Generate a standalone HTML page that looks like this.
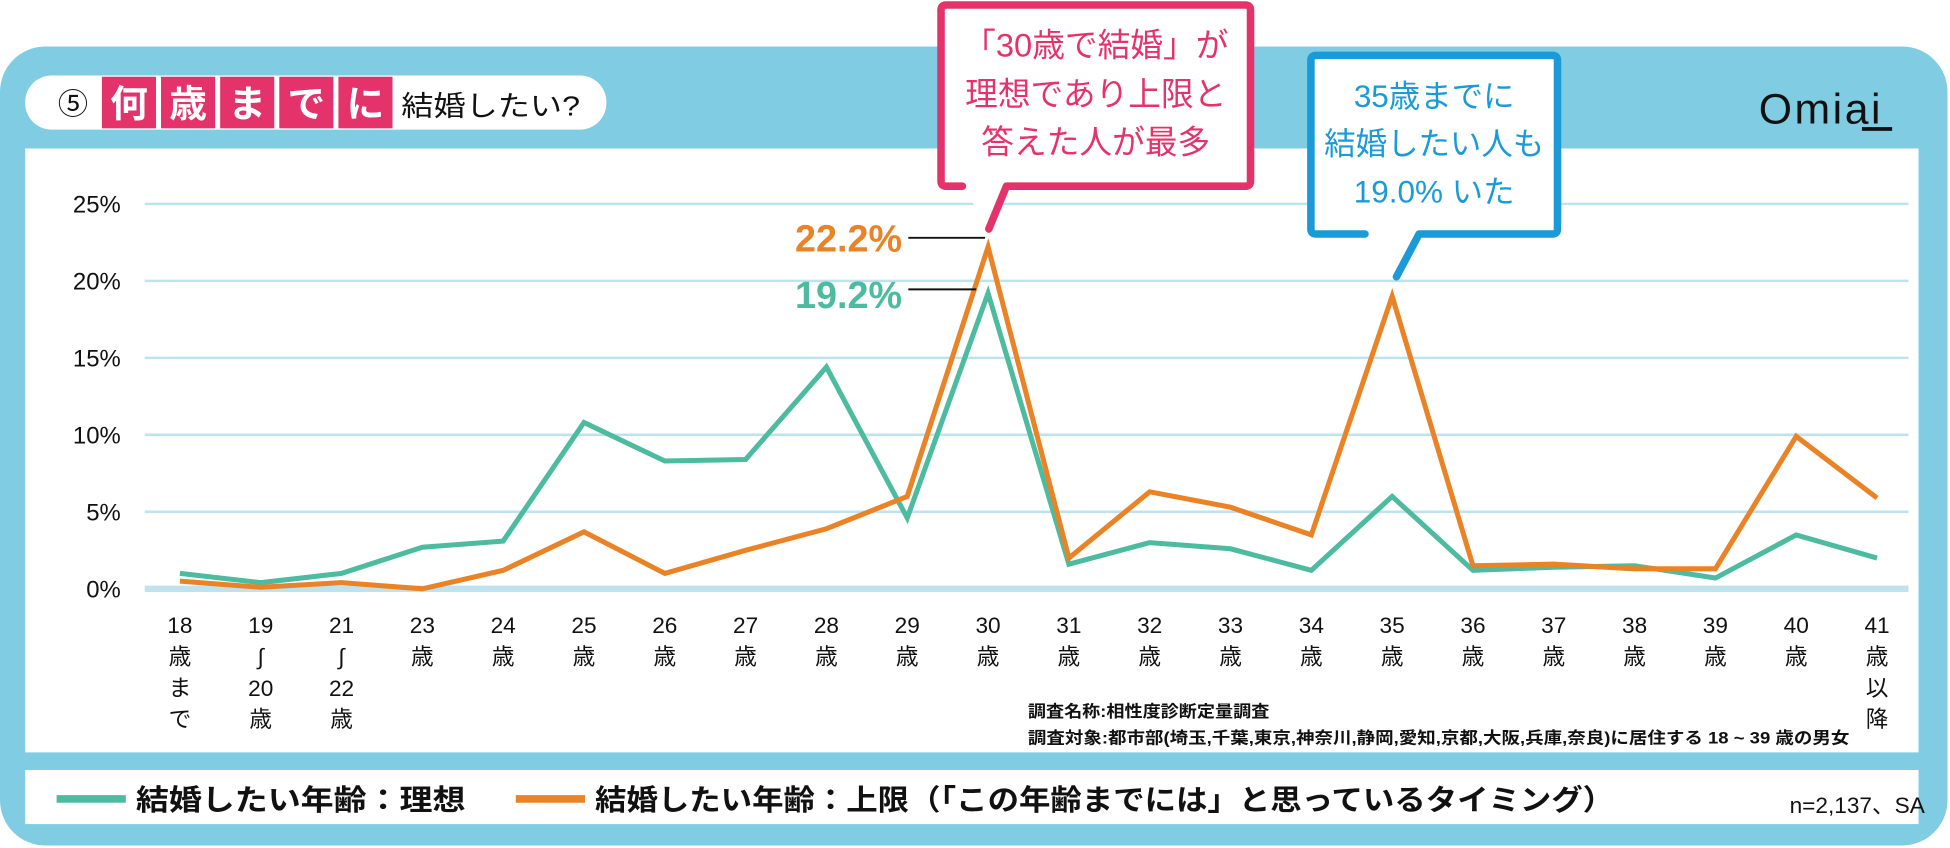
<!DOCTYPE html>
<html><head><meta charset="utf-8"><style>
html,body{margin:0;padding:0;background:#fff}
svg{display:block}
text{font-family:"Liberation Sans","Noto Sans CJK JP",sans-serif}
</style></head><body>
<svg id="chart" width="1950" height="848" viewBox="0 0 1550 674" preserveAspectRatio="none" xmlns="http://www.w3.org/2000/svg">
<rect x="0" y="37" width="1548" height="635" rx="36" fill="#80cce3"/>
<rect x="20" y="118" width="1505" height="480" fill="#fff"/>
<rect x="20" y="612" width="1505" height="43" fill="#fff"/>
<g>
<rect x="20" y="60" width="462" height="43" rx="21" fill="#fff"/>
<text x="58" y="91" font-size="24" text-anchor="middle" fill="#111">⑤</text>
<rect x="81" y="61" width="43" height="41" fill="#e4336b"/><rect x="128" y="61" width="43" height="41" fill="#e4336b"/><rect x="175" y="61" width="43" height="41" fill="#e4336b"/><rect x="222" y="61" width="43" height="41" fill="#e4336b"/><rect x="269" y="61" width="43" height="41" fill="#e4336b"/>
<text y="93" font-size="30" font-weight="bold" fill="#fff" text-anchor="middle"><tspan x="102.5">何</tspan><tspan x="149.5">歳</tspan><tspan x="196.5">ま</tspan><tspan x="243.5">で</tspan><tspan x="290.5">に</tspan></text>
<text x="319" y="92" font-size="22" fill="#111" textLength="142" lengthAdjust="spacingAndGlyphs">結婚したい?</text>
</g>
<g><text x="1398" y="98" font-size="34" fill="#111" letter-spacing="2">Omiai</text><rect x="1480" y="101" width="24" height="3" fill="#111"/></g>
<g id="grid"></g><g id="series"></g><g id="labels"></g>
<g>
<path d="M765 148 L752 148 Q748 148 748 144 L748 8 Q748 4 752 4 L990 4 Q994 4 994 8 L994 144 Q994 148 990 148 L800 148 L786 182" fill="#fff" stroke="#e4336b" stroke-width="6" stroke-linecap="round" stroke-linejoin="round"/>
<text font-size="26" fill="#e4336b" text-anchor="middle"><tspan x="871" y="45">「30歳で結婚」が</tspan><tspan x="871" y="84">理想であり上限と</tspan><tspan x="871" y="122">答えた人が最多</tspan></text>
</g>
<g>
<path d="M1085 186 L1046 186 Q1042 186 1042 182 L1042 48 Q1042 44 1046 44 L1234 44 Q1238 44 1238 48 L1238 182 Q1238 186 1234 186 L1128 186 L1110 220" fill="#fff" stroke="#1a9ad6" stroke-width="6" stroke-linecap="round" stroke-linejoin="round"/>
<text font-size="25" fill="#1a9ad6" text-anchor="middle"><tspan x="1140" y="85">35歳までに</tspan><tspan x="1140" y="123">結婚したい人も</tspan><tspan x="1140" y="161">19.0% いた</tspan></text>
</g>
<g>
<text x="717" y="200" font-size="30" font-weight="bold" fill="#ea8226" text-anchor="end">22.2%</text>
<line x1="722" y1="189" x2="783" y2="189" stroke="#111" stroke-width="1.5"/>
<text x="717" y="245" font-size="30" font-weight="bold" fill="#4dbb9f" text-anchor="end">19.2%</text>
<line x1="722" y1="230" x2="776" y2="230" stroke="#111" stroke-width="1.5"/>
</g>
<g font-size="13" font-weight="bold" fill="#111">
<text x="817" y="570" textLength="192" lengthAdjust="spacingAndGlyphs">調査名称:相性度診断定量調査</text>
<text x="817" y="591" textLength="653" lengthAdjust="spacingAndGlyphs">調査対象:都市部(埼玉,千葉,東京,神奈川,静岡,愛知,京都,大阪,兵庫,奈良)に居住する 18 ~ 39 歳の男女</text>
</g>
<g>
<line x1="45" y1="635" x2="100" y2="635" stroke="#4dbb9f" stroke-width="6"/>
<text x="108" y="644" font-size="23" font-weight="bold" fill="#111" textLength="262" lengthAdjust="spacingAndGlyphs">結婚したい年齢：理想</text>
<line x1="410" y1="635" x2="465" y2="635" stroke="#ea8226" stroke-width="6"/>
<text x="473" y="644" font-size="23" font-weight="bold" fill="#111" textLength="810" lengthAdjust="spacingAndGlyphs">結婚したい年齢：上限（「この年齢までには」と思っているタイミング）</text>
<text x="1530" y="646" font-size="18" fill="#111" text-anchor="end">n=2,137、SA</text>
</g>
</svg>
<script>
const categories=["18歳まで","19〜20歳","21〜22歳","23歳","24歳","25歳","26歳","27歳","28歳","29歳","30歳","31歳","32歳","33歳","34歳","35歳","36歳","37歳","38歳","39歳","40歳","41歳以降"];
const xLabels=[["18","歳","ま","で"],["19","∫","20","歳"],["21","∫","22","歳"],["23","歳"],["24","歳"],["25","歳"],["26","歳"],["27","歳"],["28","歳"],["29","歳"],["30","歳"],["31","歳"],["32","歳"],["33","歳"],["34","歳"],["35","歳"],["36","歳"],["37","歳"],["38","歳"],["39","歳"],["40","歳"],["41","歳","以","降"]];
const idealValues=[1.0,0.4,1.0,2.7,3.1,10.8,8.3,8.4,14.4,4.6,19.2,1.6,3.0,2.6,1.2,6.0,1.2,1.4,1.5,0.7,3.5,2.0];
const upperValues=[0.5,0.1,0.4,0.0,1.2,3.7,1.0,2.5,3.9,6.0,22.2,2.0,6.3,5.3,3.5,19.0,1.5,1.6,1.3,1.3,9.9,5.9];
const yTicks=[0,5,10,15,20,25];
const yTickLabels=["0%","5%","10%","15%","20%","25%"];
const NS="http://www.w3.org/2000/svg";
function xScale(i){return 143+i*(1492-143)/(categories.length-1);}
function yScale(v){return 468-v*(468-162)/25;}
function mk(tag,attrs,parent){const e=document.createElementNS(NS,tag);for(const k in attrs)e.setAttribute(k,attrs[k]);parent.appendChild(e);return e;}
const grid=document.getElementById('grid'),series=document.getElementById('series'),labels=document.getElementById('labels');
yTicks.forEach((t,i)=>{
 const l=mk('line',{x1:115,x2:1517,y1:yScale(t),y2:yScale(t),stroke:'#bfe3ee','stroke-width':t===0?5:2},grid);
 
 
 const tx=mk('text',{x:96,y:yScale(t)+7,'font-size':19,'text-anchor':'end',fill:'#111'},grid);
 tx.textContent=yTickLabels[i];
 
 
});
xLabels.forEach((parts,i)=>{
 const tx=mk('text',{'font-size':18,'text-anchor':'middle',fill:'#111'},labels);
 
 
 parts.forEach((p,j)=>{const s=mk('tspan',{x:xScale(i),y:503+j*25},tx);s.textContent=p;});
});
function drawLine(vals,color,name){
 const pts=vals.map((v,i)=>xScale(i)+','+yScale(v)).join(' ');
 const pl=mk('polyline',{points:pts,fill:'none',stroke:color,'stroke-width':4,'stroke-linejoin':'miter','stroke-miterlimit':10},series);
 
 
}
drawLine(idealValues,'#4dbb9f','ideal-age-line');
drawLine(upperValues,'#ea8226','upper-limit-age-line');
</script>
</body></html>
